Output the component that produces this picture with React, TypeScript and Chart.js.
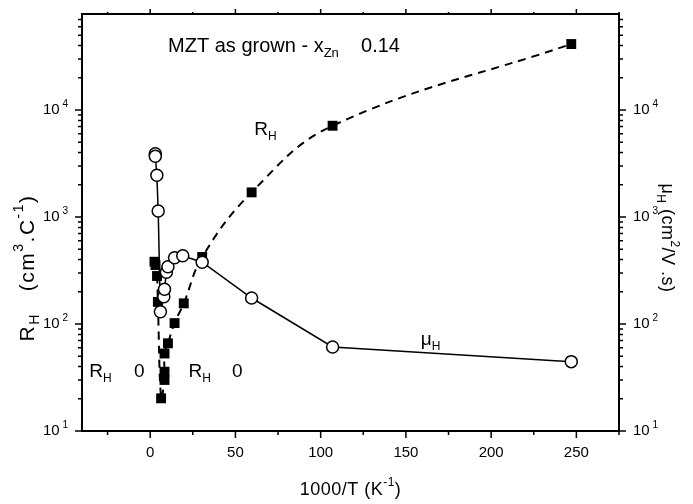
import { useEffect, useRef } from 'react';
import { Chart, registerables } from 'chart.js';

Chart.register(...registerables);

// ---- data ----
const xMajorTicks = [0, 50, 100, 150, 200, 250];
const xMinorTicks = [-25, 25, 75, 125, 175, 225, 275];
const yDecades = [10, 100, 1000, 10000];
const yExponents = ['1', '2', '3', '4'];
const xRange = [-40, 275];
const yRange = [10, 79000];

// Hall mobility (open circles, solid line)
const muX = [3, 3, 3.9, 4.7, 6.0, 8.0, 8.4, 9.5, 10.4, 14.3, 19.1, 30.5, 59.5, 107, 247];
const muY = [3900, 3700, 2460, 1140, 130, 180, 211, 304, 343, 417, 435, 378, 175, 61, 44.5];

// Hall coefficient (filled squares, dashed line)
const rhX = [2.5, 3.1, 4.0, 4.5, 6.4, 8.4, 8.4, 8.4, 10.4, 14.3, 19.7, 30.5, 59.5, 107, 247];
const rhY = [382, 356, 281, 161, 20.2, 30, 35.8, 53, 66, 102, 156, 423, 1700, 7130, 41400];

const FONT = '"Liberation Sans", Arial, Helvetica, sans-serif';

type Seg = [string, 'n' | 'sub' | 'sup'];

function setFont(ctx: CanvasRenderingContext2D, k: string, size: number) {
  ctx.font = `${k === 'n' ? size : Math.round(size * 0.65)}px ${FONT}`;
}

function richWidth(ctx: CanvasRenderingContext2D, segs: Seg[], size: number) {
  let w = 0;
  for (const [t, k] of segs) {
    setFont(ctx, k, size);
    w += ctx.measureText(t).width;
  }
  return w;
}

function drawRich(
  ctx: CanvasRenderingContext2D,
  segs: Seg[],
  x: number,
  y: number,
  size: number,
  align: 'left' | 'center' | 'right' = 'left',
  spacing = 0
) {
  (ctx as any).letterSpacing = `${spacing}px`;
  const w = richWidth(ctx, segs, size);
  let cx = align === 'left' ? x : align === 'center' ? x - w / 2 : x - w;
  ctx.textBaseline = 'middle';
  ctx.textAlign = 'left';
  for (const [t, k] of segs) {
    setFont(ctx, k, size);
    const dy = k === 'sub' ? size * 0.35 : k === 'sup' ? -size * 0.4 : 0;
    ctx.fillText(t, cx, y + dy);
    cx += ctx.measureText(t).width;
  }
  (ctx as any).letterSpacing = '0px';
}

const decorPlugin = {
  id: 'decor',
  afterDraw(chart: any) {
    const ctx: CanvasRenderingContext2D = chart.ctx;
    const { left, right, top, bottom } = chart.chartArea;
    const xs = chart.scales.x;
    const ys = chart.scales.y;
    ctx.save();
    ctx.strokeStyle = '#000';
    ctx.fillStyle = '#000';
    ctx.lineWidth = 2;
    // top frame line
    ctx.beginPath();
    ctx.moveTo(left - 1, top);
    ctx.lineTo(right + 1, top);
    ctx.stroke();

    ctx.lineWidth = 1.5;
    // x ticks
    const xt = (v: number, len: number) => {
      const px = xs.getPixelForValue(v);
      if (px < left - 0.5 || px > right + 0.5) return;
      ctx.beginPath();
      ctx.moveTo(px, bottom);
      ctx.lineTo(px, bottom + len);
      ctx.moveTo(px, top);
      ctx.lineTo(px, top - len + 2);
      ctx.stroke();
    };
    xMajorTicks.forEach((v) => xt(v, 7));
    xMinorTicks.forEach((v) => xt(v, 4));

    // y ticks (log)
    for (const d of yDecades) {
      for (let k = 1; k <= 9; k++) {
        const v = d * k;
        if (v < yRange[0] || v > yRange[1]) continue;
        const py = ys.getPixelForValue(v);
        const len = k === 1 ? 7 : 4;
        ctx.beginPath();
        ctx.moveTo(left, py);
        ctx.lineTo(left - len, py);
        ctx.moveTo(right, py);
        ctx.lineTo(right + len, py);
        ctx.stroke();
      }
    }

    // y tick labels
    yDecades.forEach((d, i) => {
      const py = ys.getPixelForValue(d);
      drawRich(ctx, [['10', 'n'], [' ' + yExponents[i], 'sup']], left - 14, py, 15, 'right');
      drawRich(ctx, [['10', 'n'], [' ' + yExponents[i], 'sup']], right + 14, py, 15, 'left');
    });

    // axis titles
    drawRich(ctx, [['1000/T (K', 'n'], ['-1', 'sup'], [')', 'n']], (left + right) / 2, 490, 18, 'center', 0.5);

    ctx.save();
    ctx.translate(28, 268);
    ctx.rotate(-Math.PI / 2);
    drawRich(ctx, [['R', 'n'], ['H', 'sub'], ['   (cm', 'n'], ['3', 'sup'], ['.C', 'n'], ['-1', 'sup'], [')', 'n']], 0, 0, 21, 'center', 1.5);
    ctx.restore();

    ctx.save();
    ctx.translate(667, 238);
    ctx.rotate(Math.PI / 2);
    drawRich(ctx, [['\u03bc', 'n'], ['H', 'sub'], [' (cm', 'n'], ['2', 'sup'], ['/V .s)', 'n']], 0, 0, 18, 'center', 0.5);
    ctx.restore();

    // annotations (placed in data coordinates)
    const P = (x: number, y: number) => [xs.getPixelForValue(x), ys.getPixelForValue(y)];
    let [ax, ay] = P(10.5, 39600);
    drawRich(ctx, [['MZT as grown - x', 'n'], ['Zn', 'sub'], ['    0.14', 'n']], ax, ay, 20, 'left');
    [ax, ay] = P(61, 6500);
    drawRich(ctx, [['R', 'n'], ['H', 'sub']], ax, ay, 19, 'left');
    [ax, ay] = P(158.7, 71);
    drawRich(ctx, [['\u03bc', 'n'], ['H', 'sub']], ax, ay, 19, 'left');
    [ax, ay] = P(-35.7, 35.6);
    drawRich(ctx, [['R', 'n'], ['H', 'sub']], ax, ay, 19, 'left');
    [ax, ay] = P(-9.5, 35.6);
    drawRich(ctx, [['0', 'n']], ax, ay, 19, 'left');
    [ax, ay] = P(22.5, 35.6);
    drawRich(ctx, [['R', 'n'], ['H', 'sub']], ax, ay, 19, 'left');
    [ax, ay] = P(48, 35.6);
    drawRich(ctx, [['0', 'n']], ax, ay, 19, 'left');
    ctx.restore();
  },
};

export default function App() {
  const ref = useRef<HTMLCanvasElement | null>(null);
  useEffect(() => {
    if (!ref.current) return;
    const chart = new Chart(ref.current, {
      type: 'line',
      data: {
        datasets: [
          {
            label: '\u03bcH',
            data: muX.map((x, i) => ({ x, y: muY[i] })),
            yAxisID: 'y2',
            borderColor: '#000',
            borderWidth: 1.5,
            pointStyle: 'circle',
            pointRadius: 6,
            pointBorderWidth: 1.5,
            pointBackgroundColor: '#fff',
            pointBorderColor: '#000',
            tension: 0,
            fill: false,
          },
          {
            label: 'RH',
            data: rhX.map((x, i) => ({ x, y: rhY[i] })),
            yAxisID: 'y',
            borderColor: '#000',
            borderWidth: 2,
            borderDash: [8, 6],
            pointStyle: 'rect',
            pointRadius: 7,
            pointBorderWidth: 0,
            pointBackgroundColor: '#000',
            pointBorderColor: '#000',
            tension: 0.4,
            fill: false,
          },
        ],
      },
      options: {
        responsive: false,
        animation: false,
        events: [],
        layout: { padding: { top: 14, left: 0, right: 0, bottom: 0 } },
        plugins: { legend: { display: false }, tooltip: { enabled: false }, title: { display: false } },
        scales: {
          x: {
            type: 'linear',
            position: 'bottom',
            min: xRange[0],
            max: xRange[1],
            grid: { display: false, drawTicks: false },
            border: { display: true, color: '#000', width: 2 },
            ticks: {
              color: '#000',
              font: { family: FONT, size: 15 },
              padding: 13,
              maxRotation: 0,
              autoSkip: false,
            },
            afterBuildTicks: (axis: any) => {
              axis.ticks = xMajorTicks.map((v) => ({ value: v }));
            },
            afterFit: (axis: any) => {
              axis.height = 73;
            },
          },
          y: {
            type: 'logarithmic',
            position: 'left',
            min: yRange[0],
            max: yRange[1],
            grid: { display: false, drawTicks: false },
            border: { display: true, color: '#000', width: 2 },
            ticks: { display: false },
            afterFit: (axis: any) => {
              axis.width = 82;
            },
          },
          y2: {
            type: 'logarithmic',
            position: 'right',
            min: yRange[0],
            max: yRange[1],
            grid: { display: false, drawTicks: false },
            border: { display: true, color: '#000', width: 2 },
            ticks: { display: false },
            afterFit: (axis: any) => {
              axis.width = 74;
            },
          },
        },
      },
      plugins: [decorPlugin],
    });
    return () => chart.destroy();
  }, []);
  return (
    <div style={{ position: 'absolute', left: 0, top: 0, width: 693, height: 504, background: '#fff' }}>
      <canvas ref={ref} width={693} height={504} style={{ display: 'block' }} />
    </div>
  );
}
